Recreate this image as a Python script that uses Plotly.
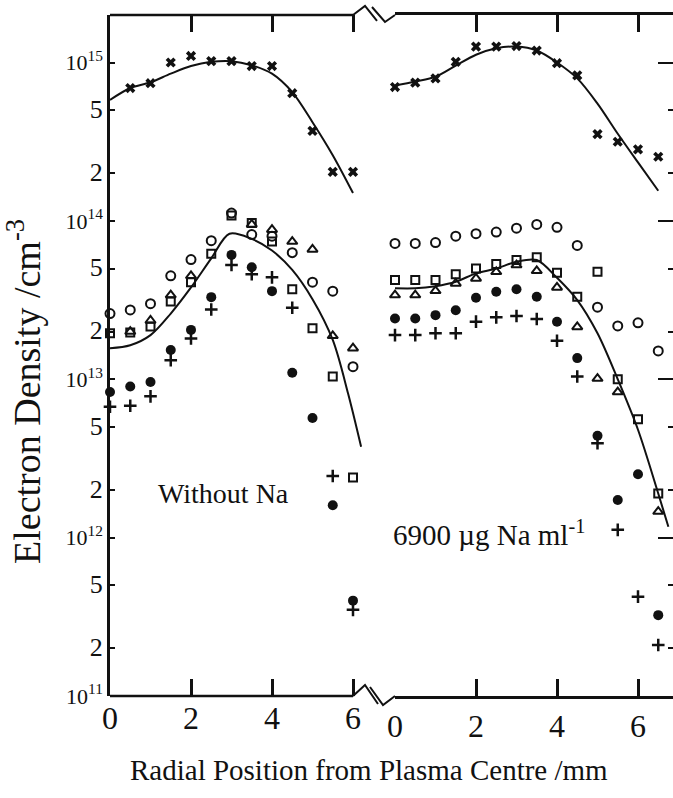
import plotly.graph_objects as go

# ---------------- data ----------------
x_left = [0, 0.5, 1.0, 1.5, 2.0, 2.5, 3.0, 3.5, 4.0, 4.5, 5.0, 5.5, 6.0]
x_right = [0, 0.5, 1.0, 1.5, 2.0, 2.5, 3.0, 3.5, 4.0, 4.5, 5.0, 5.5, 6.0, 6.5]

# Without Na (left panel)
left_cross = [None, 6.9e14, 7.4e14, 1.0e15, 1.1e15, 1.02e15, 1.02e15, 9.5e14, 9.5e14, 6.4e14, 3.7e14, 2.04e14, 2.04e14]
left_circle = [2.6e13, 2.74e13, 3.0e13, 4.5e13, 5.7e13, 7.5e13, 1.12e14, 8.2e13, 8.0e13, 6.3e13, 4.1e13, 3.6e13, 1.2e13]
left_square = [1.95e13, 1.97e13, 2.15e13, 3.1e13, 4.1e13, 6.2e13, 1.08e14, 9.7e13, 7.4e13, 3.7e13, 2.1e13, 1.04e13, 2.4e12]
left_triangle = [None, 2.0e13, 2.35e13, 3.4e13, 4.5e13, None, None, 9.5e13, 8.8e13, 7.4e13, 6.6e13, 1.88e13, 1.57e13]
left_filled = [8.3e12, 9.0e12, 9.6e12, 1.53e13, 2.05e13, 3.3e13, 6.1e13, 5.1e13, 3.6e13, 1.1e13, 5.7e12, 1.6e12, 4.0e11]
left_plus = [6.7e12, 6.8e12, 7.8e12, 1.32e13, 1.81e13, 2.76e13, 5.26e13, 4.6e13, 4.4e13, 2.83e13, None, 2.45e12, 3.5e11]

left_top_curve_x = [0, 0.5, 1.0, 1.5, 2.0, 2.5, 3.0, 3.5, 4.0, 4.5, 5.0, 5.5, 6.0]
left_top_curve_y = [5.8e14, 6.9e14, 7.5e14, 8.5e14, 9.5e14, 1.01e15, 1.02e15, 9.6e14, 8.5e14, 6.5e14, 4.2e14, 2.6e14, 1.5e14]
left_mid_curve_x = [0, 0.5, 1.0, 1.5, 2.0, 2.5, 2.95, 3.5, 4.0, 4.5, 5.0, 5.5, 5.88, 6.2]
left_mid_curve_y = [1.57e13, 1.64e13, 1.9e13, 2.6e13, 3.8e13, 5.8e13, 8.3e13, 7.7e13, 6.5e13, 4.9e13, 3.2e13, 1.77e13, 8.1e12, 3.75e12]

# 6900 ug Na/ml (right panel)
right_cross = [7.0e14, 7.46e14, 7.94e14, 1.01e15, 1.26e15, 1.26e15, 1.27e15, 1.19e15, 9.9e14, 8.3e14, 3.53e14, 3.16e14, 2.83e14, 2.54e14]
right_circle = [7.2e13, 7.2e13, 7.3e13, 8.0e13, 8.3e13, 8.5e13, 9.0e13, 9.5e13, 9.1e13, 7.0e13, 2.85e13, 2.17e13, 2.27e13, 1.51e13]
right_square = [4.23e13, 4.23e13, 4.23e13, 4.6e13, 5.0e13, 5.34e13, 5.66e13, 5.89e13, 4.7e13, 3.32e13, 4.78e13, 1.0e13, 5.6e12, 1.9e12]
right_triangle = [3.4e13, 3.4e13, 3.62e13, 4.03e13, 4.33e13, 4.77e13, 5.26e13, 4.84e13, 3.8e13, 2.14e13, 1.01e13, 8.3e12, None, 1.46e12]
right_filled = [2.42e13, 2.42e13, 2.54e13, 2.73e13, 3.27e13, 3.57e13, 3.7e13, 3.32e13, 2.31e13, 1.36e13, 4.4e12, 1.73e12, 2.51e12, 3.24e11]
right_plus = [1.9e13, 1.9e13, 1.95e13, 1.95e13, 2.31e13, 2.46e13, 2.51e13, 2.4e13, 1.75e13, 1.04e13, 3.94e12, 1.12e12, 4.24e11, 2.1e11]

right_top_curve_x = [0, 0.5, 1.0, 1.5, 2.0, 2.5, 3.0, 3.5, 4.0, 4.5, 5.0, 5.5, 6.0, 6.5]
right_top_curve_y = [7.16e14, 7.59e14, 8.13e14, 9.55e14, 1.12e15, 1.23e15, 1.26e15, 1.19e15, 1.0e15, 7.94e14, 5.5e14, 3.55e14, 2.34e14, 1.55e14]
right_mid_curve_x = [0, 0.5, 1.0, 1.5, 2.0, 2.5, 3.0, 3.5, 4.0, 4.5, 5.0, 5.5, 6.0, 6.5, 6.75]
right_mid_curve_y = [3.75e13, 3.75e13, 3.87e13, 4.13e13, 4.66e13, 5.0e13, 5.52e13, 5.66e13, 4.37e13, 3.16e13, 1.95e13, 1.0e13, 4.8e12, 1.9e12, 1.17e12]

x_tickvals = [0, 2, 4, 6]
x_ticktext = ["0", "2", "4", "6"]
y_decades = [1e11, 1e12, 1e13, 1e14, 1e15]
y_minor = [2e11, 5e11, 2e12, 5e12, 2e13, 5e13, 2e14, 5e14]
y_all = [1e11, 2e11, 5e11, 1e12, 2e12, 5e12, 1e13, 2e13, 5e13, 1e14, 2e14, 5e14, 1e15]
y_all_text = ["10<sup>11</sup>", "2", "5", "10<sup>12</sup>", "2", "5", "10<sup>13</sup>",
              "2", "5", "10<sup>14</sup>", "2", "5", "10<sup>15</sup>"]

label_left = "Without Na"
label_right = "6900 \u00b5g Na ml<sup>-1</sup>"
y_title = "Electron Density /cm<sup>-3</sup>"
x_title = "Radial Position from Plasma Centre /mm"

# ---------------- figure ----------------
W, H = 673, 798
ML, MT, MB = 110, 15, 102
PW, PH = W - ML, H - MT - MB
FONT = "Liberation Serif"
BLACK = "#111"
PX_PER_MM = 40.5


def P(px, py):
    return (px - ML) / PW, (H - MB - py) / PH


def label_html(t):
    if t.startswith("10"):
        return t
    return f'<span style="font-size:26px">{t}</span>'


fig = go.Figure()

marker_styles = {
    "cross": dict(symbol="x", size=9, color=BLACK, line=dict(width=0)),
    "circle": dict(symbol="circle-open", size=9, color=BLACK, line=dict(width=2, color=BLACK)),
    "square": dict(symbol="square-open", size=8, color=BLACK, line=dict(width=2, color=BLACK)),
    "triangle": dict(symbol="triangle-up-open", size=9, color=BLACK, line=dict(width=2, color=BLACK)),
    "filled": dict(symbol="circle", size=10, color=BLACK),
    "plus": dict(symbol="cross-thin-open", size=9, color=BLACK, line=dict(width=2.5, color=BLACK)),
}

left_series = [("cross", left_cross), ("circle", left_circle), ("square", left_square),
               ("triangle", left_triangle), ("filled", left_filled), ("plus", left_plus)]
right_series = [("cross", right_cross), ("circle", right_circle), ("square", right_square),
                ("triangle", right_triangle), ("filled", right_filled), ("plus", right_plus)]

for cx, cy in [(left_top_curve_x, left_top_curve_y), (left_mid_curve_x, left_mid_curve_y)]:
    fig.add_trace(go.Scatter(x=cx, y=cy, mode="lines", line=dict(color=BLACK, width=2, shape="spline", smoothing=0.9),
                             xaxis="x", yaxis="y", showlegend=False, hoverinfo="skip"))
for cx, cy in [(right_top_curve_x, right_top_curve_y), (right_mid_curve_x, right_mid_curve_y)]:
    fig.add_trace(go.Scatter(x=cx, y=cy, mode="lines", line=dict(color=BLACK, width=2, shape="spline", smoothing=0.9),
                             xaxis="x2", yaxis="y2", showlegend=False, hoverinfo="skip"))

for name, vals in left_series:
    fig.add_trace(go.Scatter(x=x_left, y=vals, mode="markers", marker=marker_styles[name],
                             xaxis="x", yaxis="y", cliponaxis=False, showlegend=False))
for name, vals in right_series:
    fig.add_trace(go.Scatter(x=x_right, y=vals, mode="markers", marker=marker_styles[name],
                             xaxis="x2", yaxis="y2", cliponaxis=False, showlegend=False))

yr = [11, 15.3]
LEFT_END_PX = 363   # data area of left panel (curve runs slightly past the 6 mm tick)
common_x = dict(ticks="inside", mirror="ticks",
                ticklen=17, tickwidth=2.5, tickcolor=BLACK, tickvals=x_tickvals, ticktext=x_ticktext,
                showgrid=False, zeroline=False, tickfont=dict(family=FONT, size=32, color=BLACK))

fig.update_layout(
    width=W, height=H,
    margin=dict(l=ML, r=0, t=MT, b=MB, pad=0),
    paper_bgcolor="white", plot_bgcolor="white",
    xaxis=dict(domain=[0, (LEFT_END_PX - ML) / PW], range=[0, (LEFT_END_PX - ML) / PX_PER_MM], anchor="y",
               showline=False, **common_x),
    xaxis2=dict(domain=[(395 - ML) / PW, 1], range=[0, (W - 395) / PX_PER_MM], anchor="y2",
                showline=True, linewidth=2.5, linecolor=BLACK, **common_x),
    yaxis=dict(type="log", range=yr, anchor="x", showline=True, linewidth=2.5, linecolor=BLACK,
               ticks="inside", ticklen=5, tickwidth=2, tickcolor=BLACK,
               tickvals=y_all, ticktext=[label_html(t) for t in y_all_text], showgrid=False, zeroline=False,
               tickfont=dict(family=FONT, size=22, color=BLACK)),
    yaxis3=dict(type="log", range=yr, anchor="x", overlaying="y", side="left", showline=False,
                ticks="inside", ticklen=22, tickwidth=2, tickcolor=BLACK, tickvals=y_decades,
                showticklabels=False, showgrid=False, zeroline=False),
    yaxis2=dict(type="log", range=yr, anchor="x2", side="right", showline=False,
                ticks="inside", ticklen=15, tickwidth=2, tickcolor=BLACK, tickvals=y_decades,
                showticklabels=False, showgrid=False, zeroline=False,
                minor=dict(tickvals=y_minor, ticks="inside", ticklen=5, tickwidth=1.5, tickcolor=BLACK)),
    font=dict(family=FONT, color=BLACK),
)


def path(points):
    s = ""
    for i, (px, py) in enumerate(points):
        x, y = P(px, py)
        s += ("M" if i == 0 else " L") + f" {x:.5f},{y:.5f}"
    return s


# left panel frame lines (bottom / top) ending at the 6 mm tick, then the axis breaks
frame = [
    [(ML, 696), (353, 696)],
    [(ML, 15), (353, 15)],
]
zig = [
    [(353, 15), (365, 6), (377, 21)],
    [(372, 7), (385, 22), (395, 15)],
    [(353, 696), (365, 685), (378, 704)],
    [(370, 687), (383, 705), (395, 696)],
]
for z in frame:
    fig.add_shape(type="path", path=path(z), xref="paper", yref="paper",
                  line=dict(color=BLACK, width=2.5))
for z in zig:
    fig.add_shape(type="path", path=path(z), xref="paper", yref="paper",
                  line=dict(color=BLACK, width=2))

ann = [
    (label_left, 223, 493, 28, 0),
    (label_right, 489, 533, 29, 0),
    (y_title, 24, 392, 38, -90),
    (x_title, 369, 770, 29, 0),
]
for text, px, py, size, ang in ann:
    x, y = P(px, py)
    fig.add_annotation(text=text, x=x, y=y, xref="paper", yref="paper", showarrow=False,
                       textangle=ang, xanchor="center", yanchor="middle",
                       font=dict(family=FONT, size=size, color=BLACK))

fig.write_html("out.html")
